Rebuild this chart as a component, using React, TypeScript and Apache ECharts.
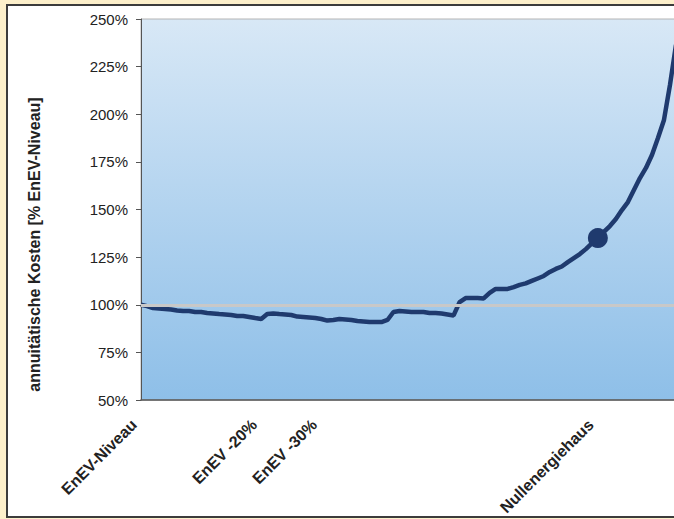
import React, { useEffect, useRef } from "react";
import * as echarts from "echarts";

// Milestone labels on the x axis and their category positions
const milestoneNames = ["EnEV-Niveau", "EnEV -20%", "EnEV -30%", "Nullenergiehaus"];
const milestoneIndex = [0, 20, 30, 76];

// Annuitätische Kosten in % of EnEV-Niveau
const costPercent = [
  100, 99.3, 98.3, 98.0, 97.8, 97.5, 97.0, 96.7, 96.7, 96.2,
  96.2, 95.7, 95.4, 95.1, 94.9, 94.6, 94.1, 94.1, 93.6, 93.0,
  92.5, 95.1, 95.4, 95.1, 94.9, 94.6, 93.8, 93.6, 93.3, 93.0,
  92.5, 91.7, 92.0, 92.5, 92.3, 92.0, 91.5, 91.2, 90.9, 90.9,
  90.9, 92.0, 96.2, 96.7, 96.5, 96.2, 96.2, 96.2, 95.7, 95.7,
  95.4, 94.9, 94.4, 101.4, 103.5, 103.5, 103.5, 103.3, 106.2, 108.3,
  108.3, 108.3, 109.3, 110.4, 111.2, 112.5, 113.8, 115.1, 117.2, 118.8,
  120.1, 122.4, 124.5, 126.6, 129.2, 132.2, 135.0, 138.2, 141.3, 145.0,
  149.7, 153.9, 160.2, 166.5, 171.8, 178.6, 187.5, 197.0, 215.4, 236.4,
];

// Y axis ticks
const yMin = 50;
const yMax = 250;
const yStep = 25;
const referenceLevel = 100;
const markerIndex = 3; // Nullenergiehaus

const FONT = "'Liberation Sans', Arial, Helvetica, sans-serif";

export default function App() {
  const ref = useRef<HTMLDivElement>(null);

  useEffect(() => {
    if (!ref.current) return;
    const chart = echarts.init(ref.current, null, { renderer: "svg" });
    const categories = costPercent.map((_, i) => {
      const k = milestoneIndex.indexOf(i);
      return k >= 0 ? milestoneNames[k] : "";
    });
    const mi = milestoneIndex[markerIndex];

    chart.setOption({
      animation: false,
      backgroundColor: "transparent",
      grid: {
        left: 141,
        top: 19,
        right: -2,
        bottom: 119,
        containLabel: false,
        outerBoundsMode: "none",
        show: true,
        borderColor: "#b4b4b4",
        borderWidth: 1,
        backgroundColor: new echarts.graphic.LinearGradient(0, 0, 0, 1, [
          { offset: 0, color: "#d8e8f6" },
          { offset: 0.5, color: "#b2d3ef" },
          { offset: 1, color: "#8ebfe8" },
        ]),
      },
      xAxis: {
        type: "category",
        data: categories,
        boundaryGap: false,
        axisLine: { show: true, lineStyle: { color: "#555", width: 1.5 } },
        axisTick: { show: false },
        splitLine: { show: false },
        axisLabel: {
          interval: 0,
          rotate: 45,
          margin: 15,
          padding: [0, 10, 0, 0],
          fontFamily: FONT,
          fontWeight: "bold",
          fontSize: 16,
          color: "#222",
        },
      },
      yAxis: {
        type: "value",
        min: yMin,
        max: yMax,
        interval: yStep,
        name: "annuitätische Kosten [% EnEV-Niveau]",
        nameLocation: "middle",
        nameGap: 99,
        nameTextStyle: {
          fontFamily: FONT,
          fontWeight: "bold",
          fontSize: 16,
          color: "#222",
          padding: [0, 70, 0, 0],
        },
        axisLine: { show: true, lineStyle: { color: "#555", width: 1 } },
        axisTick: { show: true, inside: false, length: 5, lineStyle: { color: "#555" } },
        splitLine: { show: false },
        axisLabel: {
          formatter: "{value}%",
          margin: 13,
          fontFamily: FONT,
          fontSize: 15,
          color: "#222",
        },
      },
      series: [
        {
          type: "line",
          data: costPercent,
          showSymbol: false,
          symbol: "none",
          lineStyle: { color: "#1f3a6e", width: 4.5 },
          z: 2,
        },
        {
          type: "line",
          data: [],
          z: 3,
          markLine: {
            silent: true,
            symbol: ["none", "none"],
            label: { show: false },
            lineStyle: { color: "#c8c8c8", width: 3, type: "solid" },
            data: [{ yAxis: referenceLevel }],
          },
        },
        {
          type: "scatter",
          data: [[mi, costPercent[mi]]],
          symbol: "circle",
          symbolSize: 20,
          itemStyle: { color: "#1f3a6e", opacity: 1 },
          z: 4,
        },
      ],
    });
    return () => chart.dispose();
  }, []);

  return (
    <div
      style={{
        position: "fixed",
        left: 0,
        top: 0,
        width: 674,
        height: 519,
        background: "#fdf0cb",
        overflow: "hidden",
      }}
    >
      <div
        style={{
          position: "absolute",
          left: 6,
          top: 4,
          width: 700,
          height: 510,
          border: "2px solid #3c3c3c",
          background: "#ffffff",
        }}
      />
      <div ref={ref} style={{ position: "absolute", left: 0, top: 0, width: 674, height: 519 }} />
    </div>
  );
}
